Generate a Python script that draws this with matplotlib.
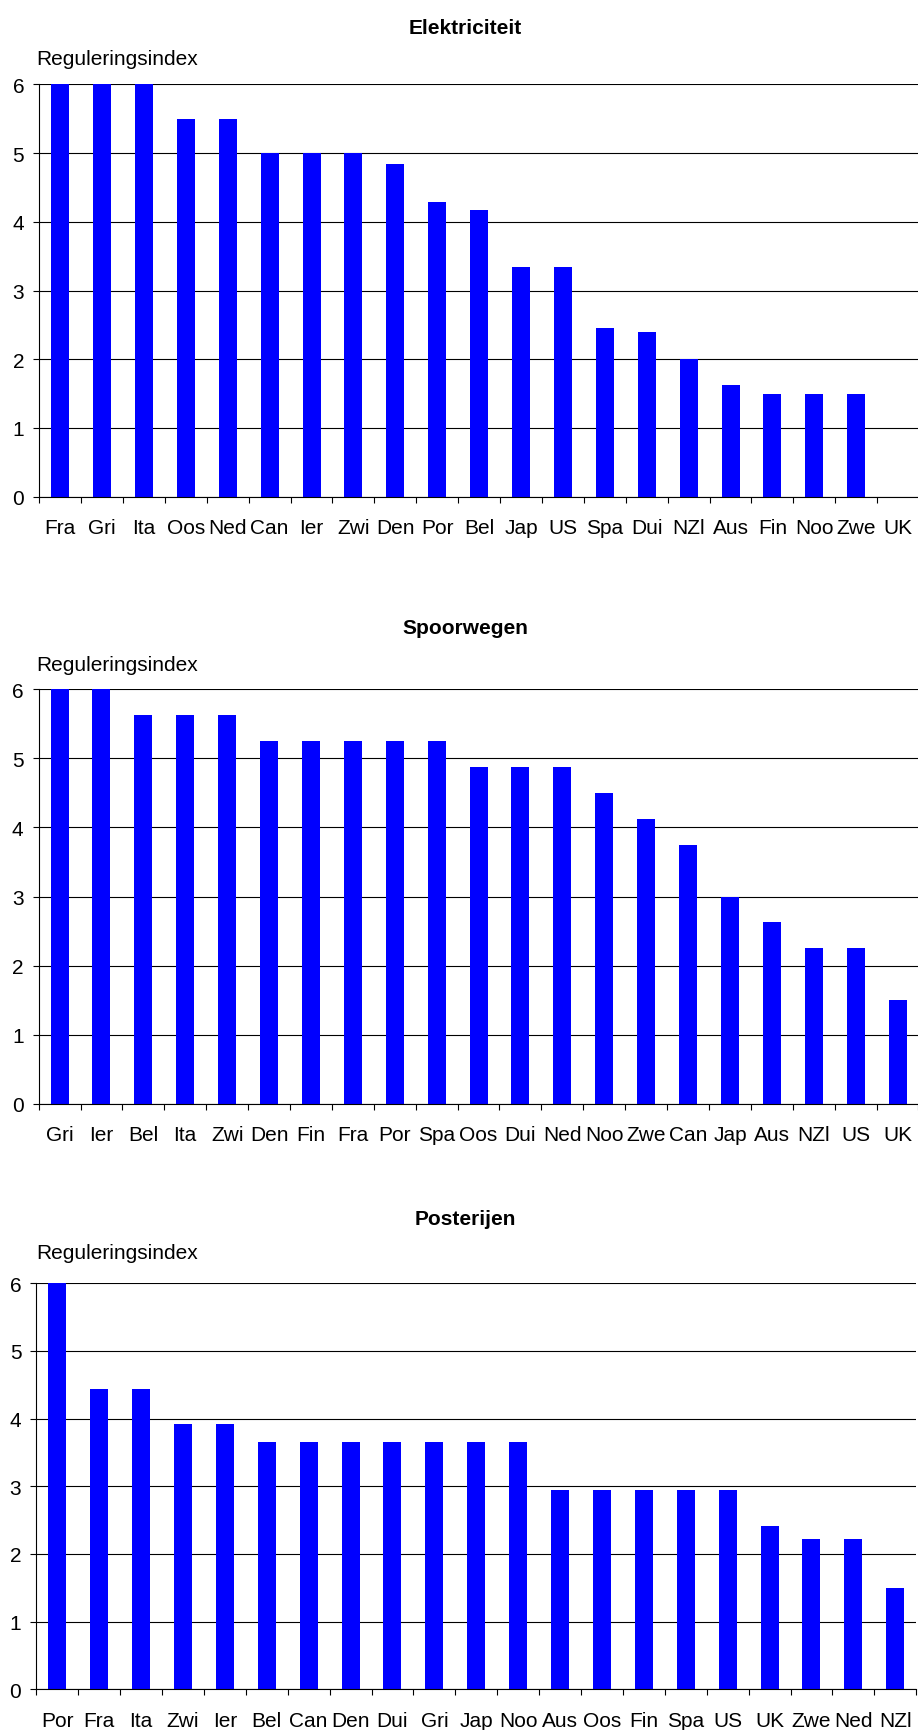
import numpy as np
import matplotlib
matplotlib.use('Agg')
from matplotlib import pyplot as plt
from matplotlib.ticker import FixedLocator

plt.rcParams['font.family'] = ['Liberation Sans', 'DejaVu Sans']

# Elektriciteit
elek_landen = ['Fra', 'Gri', 'Ita', 'Oos', 'Ned', 'Can', 'Ier', 'Zwi', 'Den', 'Por', 'Bel',
               'Jap', 'US', 'Spa', 'Dui', 'NZl', 'Aus', 'Fin', 'Noo', 'Zwe', 'UK']
elek_index = [6.0, 6.0, 6.0, 5.5, 5.5, 5.0, 5.0, 5.0, 4.84, 4.29, 4.17,
              3.34, 3.34, 2.45, 2.39, 2.0, 1.62, 1.5, 1.5, 1.5, 0.0]

# Spoorwegen
spoor_landen = ['Gri', 'Ier', 'Bel', 'Ita', 'Zwi', 'Den', 'Fin', 'Fra', 'Por', 'Spa', 'Oos',
                'Dui', 'Ned', 'Noo', 'Zwe', 'Can', 'Jap', 'Aus', 'NZl', 'US', 'UK']
spoor_index = [6.0, 6.0, 5.625, 5.625, 5.625, 5.25, 5.25, 5.25, 5.25, 5.25, 4.875,
               4.875, 4.875, 4.5, 4.125, 3.75, 3.0, 2.625, 2.25, 2.25, 1.5]

# Posterijen
post_landen = ['Por', 'Fra', 'Ita', 'Zwi', 'Ier', 'Bel', 'Can', 'Den', 'Dui', 'Gri', 'Jap',
               'Noo', 'Aus', 'Oos', 'Fin', 'Spa', 'US', 'UK', 'Zwe', 'Ned', 'NZl']
post_index = [6.0, 4.44, 4.44, 3.92, 3.92, 3.65, 3.65, 3.65, 3.65, 3.65, 3.65,
              3.65, 2.94, 2.94, 2.94, 2.94, 2.94, 2.41, 2.22, 2.22, 1.5]

ytit = 'Reguleringsindex'

W, H = 918., 1731.
fig = plt.figure(figsize=(W / 100., H / 100.), dpi=100)

def px(x, y):
    return x / W, 1.0 - y / H

def paneel(titel, landen, waarden, left, ytop, ybot, ytitel, yreg):
    n = len(landen)
    width = 41.9 * n
    ax = fig.add_axes([left / W, 1.0 - ybot / H, width / W, (ybot - ytop) / H])
    x = np.arange(n)
    ax.bar(x, waarden, width=0.43, color='#0000ff', edgecolor='none')
    ax.set_xlim(-0.5, n - 0.5)
    ax.set_ylim(0, 6)
    ax.set_axisbelow(True)
    ax.yaxis.grid(True, color='black', linewidth=0.8)
    for s in ['top', 'right']:
        ax.spines[s].set_visible(False)
    for s in ['left', 'bottom']:
        ax.spines[s].set_linewidth(0.8)
    ax.set_yticks(range(0, 7))
    ax.tick_params(axis='y', direction='out', length=4.3, width=0.8, pad=6.5, labelsize=15)
    ax.set_xticks(x)
    ax.set_xticklabels(landen)
    ax.xaxis.set_minor_locator(FixedLocator(np.arange(n + 1) - 0.5))
    ax.tick_params(axis='x', which='major', length=0, pad=15.5, labelsize=15)
    ax.tick_params(axis='x', which='minor', direction='out', length=4.3, width=0.8)
    fig.text(*px(465, ytitel), titel, ha='center', va='baseline', fontsize=15, fontweight='bold')
    fig.text(*px(36, yreg), ytit, ha='left', va='baseline', fontsize=15)
    return ax

paneel('Elektriciteit', elek_landen, elek_index, 39.2, 85.4, 497.6, 34.4, 65.0)
paneel('Spoorwegen', spoor_landen, spoor_index, 38.6, 690.4, 1104.6, 634.0, 671.0)
paneel('Posterijen', post_landen, post_index, 36.3, 1284.3, 1690.3, 1225.4, 1259.0)

fig.savefig('out.png', dpi=100)
